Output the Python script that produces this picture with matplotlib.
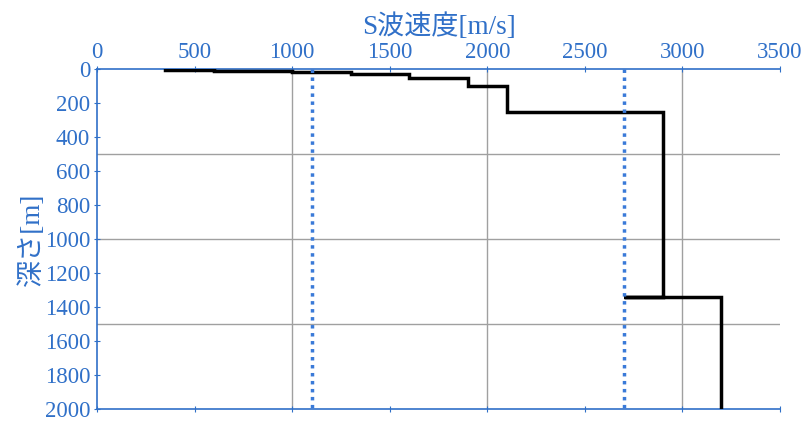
import matplotlib
matplotlib.use('Agg')
from matplotlib import pyplot as plt

plt.rcParams['font.family'] = ['Liberation Serif', 'Noto Sans CJK JP']

# S-wave velocity profile (step path)
vs = [350, 600, 600, 1000, 1000, 1300, 1300, 1600, 1600, 1900, 1900, 2100,
      2100, 2900, 2900, 2700, 3200, 3200]
depth = [5, 5, 10, 10, 20, 20, 30, 30, 50, 50, 100, 100,
         250, 250, 1340, 1340, 1340, 2000]
# reference velocities (dotted lines)
ref_vs = [1100, 2700]

blue = '#3070c8'
fig = plt.figure(figsize=(8.1, 4.26), dpi=100)
ax = fig.add_axes([0.1198, 0.040, 0.8432, 0.798])

for v in [1000, 2000, 3000]:
    ax.axvline(v, color='#a0a0a0', lw=1, zorder=1)
for d in [500, 1000, 1500]:
    ax.axhline(d, color='#a0a0a0', lw=1, zorder=1)

ax.plot(vs, depth, color='black', lw=2.5, zorder=3, solid_joinstyle='miter')
for v in ref_vs:
    ax.plot([v, v], [0, 2000], color='#3a7ad8', lw=2.5, ls=(0, (1, 1.3)), zorder=4)

ax.set_xlim(0, 3500)
ax.set_ylim(2000, 0)
ax.set_xticks(range(0, 3501, 500))
ax.set_yticks(range(0, 2001, 200))
ax.xaxis.tick_top()
ax.xaxis.set_label_position('top')
ax.tick_params(axis='x', which='both', top=True, bottom=True, direction='inout',
               length=4, color=blue, labelcolor=blue, labelsize=16.5, pad=2)
ax.tick_params(axis='y', direction='inout', length=4, color=blue,
               labelcolor=blue, labelsize=16.5, pad=3)
ax.spines['right'].set_visible(False)
for s in ['left', 'top', 'bottom']:
    ax.spines[s].set_color(blue)
    ax.spines[s].set_linewidth(1.2)

ax.set_xlabel('S波速度[m/s]', fontsize=19.5, color=blue, labelpad=6)
ax.set_ylabel('深さ[m]', fontsize=19.5, color=blue, labelpad=0)

fig.savefig('out.png', dpi=100)
